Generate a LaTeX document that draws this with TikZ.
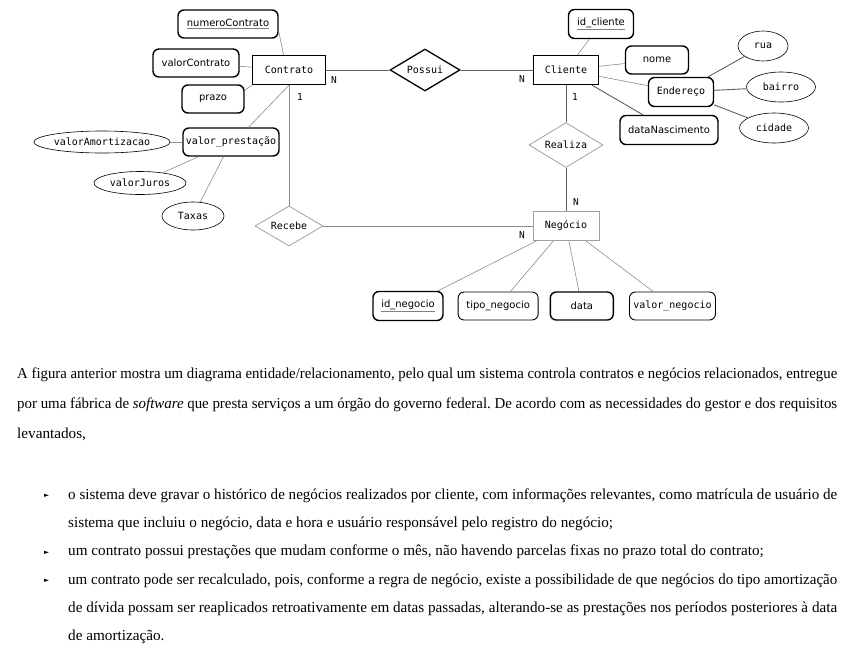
\documentclass[tikz,border=0pt]{standalone}
\usepackage{fontspec}
\usepackage{graphicx}
\setmainfont{Liberation Serif}
\newfontfamily\sansdiag{DejaVu Sans}
\newfontfamily\monodiag{DejaVu Sans Mono}
\usetikzlibrary{positioning,shapes.geometric}
\definecolor{linhacinza}{RGB}{140,140,140}
\definecolor{linhaescura}{RGB}{95,95,95}
\definecolor{bordacinza}{RGB}{160,160,160}
\frenchspacing
\newcommand{\chave}[1]{{\color{gray}\underline{\color{black}#1}}}
\newsavebox{\caixalinha}
\newcommand{\linhaj}[2]{\sbox{\caixalinha}{#2}%
  \ifdim\wd\caixalinha>#1\relax\resizebox{#1}{\height}{\usebox{\caixalinha}}%
  \else\makebox[#1][s]{#2}\fi}

\begin{document}
\begin{tikzpicture}[
    x=1pt,y=-1pt,
    entidade/.style={rectangle,draw=black,line width=1.3pt,inner sep=0pt,
      minimum height=29pt,font=\monodiag\fontsize{10}{11}\selectfont},
    entfraca/.style={entidade,draw=bordacinza,line width=0.8pt},
    relac/.style={diamond,aspect=2,draw=black,line width=1.3pt,inner sep=0pt,
      minimum width=70pt,minimum height=42pt,font=\monodiag\fontsize{10}{11}\selectfont},
    relfraca/.style={relac,draw=bordacinza,line width=0.8pt},
    atrib/.style={rectangle,rounded corners=6pt,draw=black,line width=1.4pt,inner sep=0pt,
      minimum height=28pt,font=\sansdiag\fontsize{10}{11}\selectfont},
    atribm/.style={atrib,font=\monodiag\fontsize{10}{11}\selectfont},
    atrel/.style={ellipse,draw=black,line width=0.6pt,inner sep=0pt,
      font=\monodiag\fontsize{10}{11}\selectfont},
    lig/.style={draw=linhacinza,line width=0.6pt},
    ligforte/.style={draw=linhaescura,line width=0.9pt},
    card/.style={inner sep=0pt,font=\monodiag\fontsize{9.5}{10}\selectfont},
    texto/.style={anchor=base west,inner sep=0pt,font=\fontsize{15.2}{17}\selectfont},
    marca/.style={anchor=base west,inner sep=0pt,font=\sansdiag\fontsize{6.5}{8}\selectfont}
  ]
    \path[use as bounding box] (0,0) rectangle (852,667);

    % entidades e relacionamentos
    \node[entidade,minimum width=73pt] (contrato) at (289,70) {Contrato};
    \node[relac] (possui) at (425,70) {Possui};
    \node[entidade,minimum width=65pt] (cliente) at (566,70) {Cliente};
    \node[relfraca,minimum width=74pt,minimum height=45pt] (realiza) at (566,145) {Realiza};
    \node[entfraca,minimum width=66pt] (negocio) at (566,226) {Negócio};
    \node[relfraca,minimum width=68pt,minimum height=40pt] (recebe) at (289,226) {Recebe};

    % atributos de Contrato
    \node[atrib,minimum width=100pt] (numcontrato) at (228,24) {\chave{numeroContrato}};
    \node[atrib,minimum width=86pt] (valorcontrato) at (196,63) {valorContrato};
    \node[atrib,minimum width=62pt] (prazo) at (213,99) {prazo};
    \node[atribm,minimum width=96pt] (valorprest) at (231,142) {valor\_prestação};
    \node[atrel,minimum width=130pt,minimum height=22pt] (valoramort) at (102,142) {valorAmortizacao};
    \node[atrel,minimum width=92pt,minimum height=23pt] (valorjuros) at (140,183) {valorJuros};
    \node[atrel,minimum width=62pt,minimum height=28pt] (taxas) at (193,216) {Taxas};

    % atributos de Cliente
    \node[atrib,minimum width=65pt,minimum height=29pt] (idcliente) at (601,24) {\chave{id\_cliente}};
    \node[atrib,minimum width=63pt] (nome) at (657,60) {nome};
    \node[atribm,minimum width=65pt,minimum height=29pt] (endereco) at (681,92) {Endereço};
    \node[atrib,minimum width=98pt,minimum height=29pt] (datanasc) at (669,130) {dataNascimento};
    \node[atrel,minimum width=50pt,minimum height=30pt] (rua) at (763,46) {rua};
    \node[atrel,minimum width=69pt,minimum height=30pt] (bairro) at (781,87) {bairro};
    \node[atrel,minimum width=69pt,minimum height=30pt] (cidade) at (774,128) {cidade};

    % atributos de Negocio
    \node[atrib,minimum width=70pt,minimum height=29pt] (idnegocio) at (408,306) {\chave{id\_negocio}};
    \node[atrib,line width=0.9pt,minimum width=80pt,right=14pt of idnegocio] (tiponegocio) {tipo\_negocio};
    \node[atrib,minimum width=63pt,right=11pt of tiponegocio] (data) {data};
    \node[atribm,line width=0.9pt,minimum width=86pt,right=15pt of data] (valornegocio) {valor\_negocio};

    % ligacoes
    \draw[ligforte] (contrato) -- (possui);
    \draw[ligforte] (possui) -- (cliente);
    \draw[lig] (contrato) -- (recebe);
    \draw[lig] (recebe) -- (negocio);
    \draw[ligforte] (cliente) -- (realiza);
    \draw[ligforte] (realiza) -- (negocio);

    \draw[lig] (numcontrato.-8) -- (contrato.110);
    \draw[lig] (valorcontrato) -- (contrato);
    \draw[lig] (prazo.15) -- (contrato.south west);
    \draw[lig] (valorprest.40) -- (contrato.south);
    \draw[lig] (valoramort) -- (valorprest);
    \draw[lig] (valorjuros) -- (valorprest);
    \draw[lig] (taxas) -- (valorprest);

    \draw[lig] (idcliente) -- (cliente);
    \draw[lig] (nome) -- (cliente);
    \draw[lig] (endereco) -- (cliente);
    \draw[ligforte] (datanasc) -- (cliente);
    \draw[ligforte] (rua) -- (endereco);
    \draw[ligforte] (bairro) -- (endereco);
    \draw[ligforte] (cidade) -- (endereco);

    \draw[lig] (negocio) -- (idnegocio);
    \draw[lig] (negocio) -- (tiponegocio);
    \draw[lig] (negocio) -- (data);
    \draw[lig] (negocio) -- (valornegocio);

    % cardinalidades
    \node[card] (cardcn) at (334,80) {N};
    \node[card] (cardcu) at (300,97) {1};
    \node[card] (cardln) at (522,79) {N};
    \node[card] (cardlu) at (575,97) {1};
    \node[card] (cardrn) at (576,202) {N};
    \node[card] (cardnn) at (522,235) {N};

    % enunciado
    \node[texto] (par1) at (17,378) {\linhaj{820pt}{A figura anterior mostra um diagrama entidade/relacionamento, pelo qual um sistema controla contratos e negócios relacionados, entregue}};
    \node[texto] (par2) at (17,408) {\linhaj{820pt}{por uma fábrica de \textit{software} que presta serviços a um órgão do governo federal. De acordo com as necessidades do gestor e dos requisitos}};
    \node[texto] (par3) at (17,438) {levantados,};

    \node[marca] (marca1) at (44,497) {►};
    \node[marca] (marca2) at (44,554) {►};
    \node[marca] (marca3) at (44,582) {►};
    \node[texto] (item1a) at (68,499) {\linhaj{769pt}{o sistema deve gravar o histórico de negócios realizados por cliente, com informações relevantes, como matrícula de usuário de}};
    \node[texto] (item1b) at (68,527) {sistema que incluiu o negócio, data e hora e usuário responsável pelo registro do negócio;};
    \node[texto] (item2) at (68,555) {um contrato possui prestações que mudam conforme o mês, não havendo parcelas fixas no prazo total do contrato;};
    \node[texto] (item3a) at (68,584) {\linhaj{769pt}{um contrato pode ser recalculado, pois, conforme a regra de negócio, existe a possibilidade de que negócios do tipo amortização}};
    \node[texto] (item3b) at (68,612) {\linhaj{769pt}{de dívida possam ser reaplicados retroativamente em datas passadas, alterando-se as prestações nos períodos posteriores à data}};
    \node[texto] (item3c) at (68,640) {de amortização.};
\end{tikzpicture}
\end{document}
